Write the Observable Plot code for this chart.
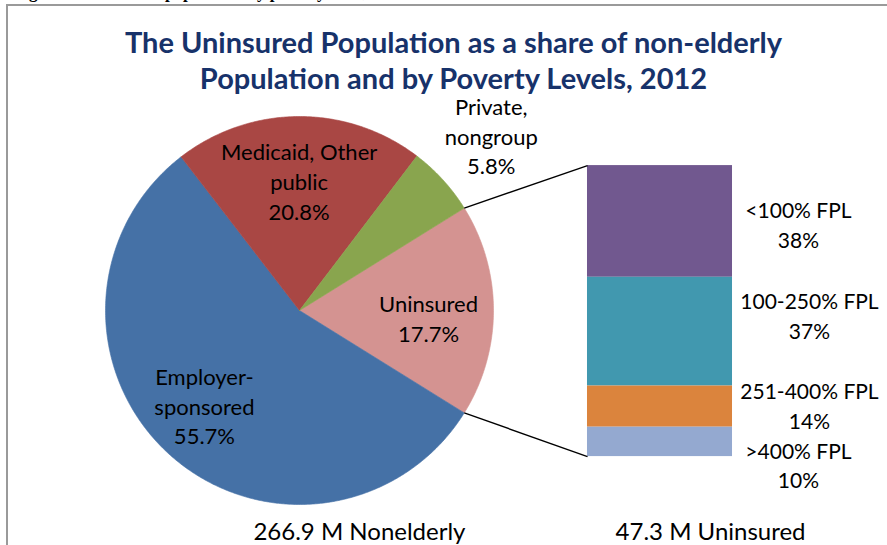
<!DOCTYPE html>
<html>
<head>
<meta charset="utf-8">
<script src="https://cdn.jsdelivr.net/npm/d3@7"></script>
<script src="https://cdn.jsdelivr.net/npm/@observablehq/plot@0.6"></script>
<style>
  body { margin: 0; background: #fff; }
  #page { position: relative; width: 887px; height: 545px; overflow: hidden; background: #fff; }
  #cap { position: absolute; left: 14px; top: -16px; font: bold 17px "Liberation Serif", serif; line-height: 17px; white-space: nowrap; color: #000; }
  #frame { position: absolute; left: 6px; top: 4px; right: -4px; bottom: -4px; border-top: 2px solid #9a9a9a; border-left: 2px solid #9a9a9a; }
  #title { position: absolute; left: 10px; top: 24px; width: 887px; text-align: center; font: bold 29px Lato, sans-serif; line-height: 36px; color: #17326a; }
  #chart { position: absolute; left: 0; top: 90px; }
</style>
</head>
<body>
<div id="page">
  <div id="cap">Figure 1: Uninsured population by poverty level, 2012</div>
  <div id="frame"></div>
  <div id="title">The Uninsured Population as a share of non-elderly<br>Population and by Poverty Levels, 2012</div>
  <div id="chart"></div>
</div>
<script>
// ---- data ----
const coverage = ["Uninsured", "Employer-sponsored", "Medicaid, Other public", "Private, nongroup"];
const coverageLabels = ["Uninsured", "Employer-\nsponsored", "Medicaid, Other\npublic", "Private,\nnongroup"];
const coverageShare = [17.7, 55.7, 20.8, 5.8];
const povertyLevels = ["<100% FPL", "100-250% FPL", "251-400% FPL", ">400% FPL"];
const povertyShare = [38, 37, 14, 10];
const totals = ["266.9 M Nonelderly", "47.3 M Uninsured"];

// ---- style / layout ----
const coverageColors = ["#d49391", "#4571a6", "#a94744", "#89a54e"];
const povertyColors = ["#71588f", "#4198af", "#db843d", "#94a9d0"];
const R = 194;                    // pie radius in px (1 unit)
const labelRadius = [0.665, 0.70, 0.655, 1.336];
const pieLabelDxPx = [0, -4, 0, 0];
const pieLabelDyPx = [7, -6, -3, -1];
const bar = {x1: 1.4845, x2: 2.232, top: 0.747, h: 1.5};
const barLabelX = 2.572;
const barLabelDxPx = [0, 11, 11, 0];
const barLabelDyPx = [2, -17, -2, 22];
const totalsX = [0.309, 2.119], totalsY = -1.144;

// pie geometry (units of radius, y up)
const tot = d3.sum(coverageShare);
const start = Math.PI / 2 - (coverageShare[0] / tot) * Math.PI;
const arcs = d3.pie().sort(null).startAngle(start).endAngle(start + 2 * Math.PI)(coverageShare);
const wedgePts = [];
arcs.forEach((a, i) => {
  const name = coverage[i];
  wedgePts.push({name, x: 0, y: 0});
  const n = Math.max(4, Math.ceil((a.endAngle - a.startAngle) / (Math.PI / 360)));
  for (let k = 0; k <= n; k++) {
    const t = a.startAngle + (a.endAngle - a.startAngle) * k / n;
    wedgePts.push({name, x: Math.sin(t), y: Math.cos(t)});
  }
  wedgePts.push({name, x: 0, y: 0});
});
const pieLabels = arcs.map((a, i) => {
  const m = (a.startAngle + a.endAngle) / 2;
  return {
    text: coverageLabels[i] + "\n" + coverageShare[i].toFixed(1) + "%",
    x: labelRadius[i] * Math.sin(m) + pieLabelDxPx[i] / R,
    y: labelRadius[i] * Math.cos(m) - pieLabelDyPx[i] / R
  };
});

// stacked bar
const ptot = d3.sum(povertyShare);
const cum = [0, ...d3.cumsum(povertyShare)];
const segs = povertyShare.map((v, i) => ({
  name: povertyLevels[i],
  x1: bar.x1, x2: bar.x2,
  y1: bar.top - cum[i] / ptot * bar.h,
  y2: bar.top - cum[i + 1] / ptot * bar.h
}));
const barLabels = segs.map((s, i) => ({
  text: povertyLevels[i] + "\n" + povertyShare[i] + "%",
  x: barLabelX + barLabelDxPx[i] / R,
  y: (s.y1 + s.y2) / 2 - barLabelDyPx[i] / R
}));

// connectors
const u = arcs[0];
const links = [
  {x1: Math.sin(u.startAngle), y1: Math.cos(u.startAngle), x2: bar.x1, y2: bar.top},
  {x1: Math.sin(u.endAngle), y1: Math.cos(u.endAngle), x2: bar.x1, y2: bar.top - bar.h}
];
const totalLabels = totals.map((t, i) => ({text: t, x: totalsX[i], y: totalsY}));

const W = 887, H = 455, cx = 299, cy = 220;
const chart = Plot.plot({
  width: W, height: H, margin: 0,
  style: {fontFamily: "Lato, sans-serif", background: "transparent", color: "#000"},
  x: {domain: [(0 - cx) / R, (W - cx) / R], axis: null},
  y: {domain: [(cy - H) / R, cy / R], axis: null},
  color: {domain: [...coverage, ...povertyLevels], range: [...coverageColors, ...povertyColors]},
  marks: [
    Plot.line(wedgePts, {x: "x", y: "y", z: "name", fill: "name", stroke: "name", strokeWidth: 0.6}),
    Plot.rect(segs, {x1: "x1", x2: "x2", y1: "y1", y2: "y2", fill: "name"}),
    Plot.link(links, {x1: "x1", y1: "y1", x2: "x2", y2: "y2", stroke: "#000", strokeWidth: 1.4}),
    Plot.text(pieLabels, {x: "x", y: "y", text: "text", fill: "#000", fontSize: 22, lineHeight: 1.35}),
    Plot.text(barLabels, {x: "x", y: "y", text: "text", fill: "#000", fontSize: 21, lineHeight: 1.4}),
    Plot.text(totalLabels, {x: "x", y: "y", text: "text", fill: "#000", fontSize: 24})
  ]
});
document.getElementById("chart").appendChild(chart);
</script>
</body>
</html>
